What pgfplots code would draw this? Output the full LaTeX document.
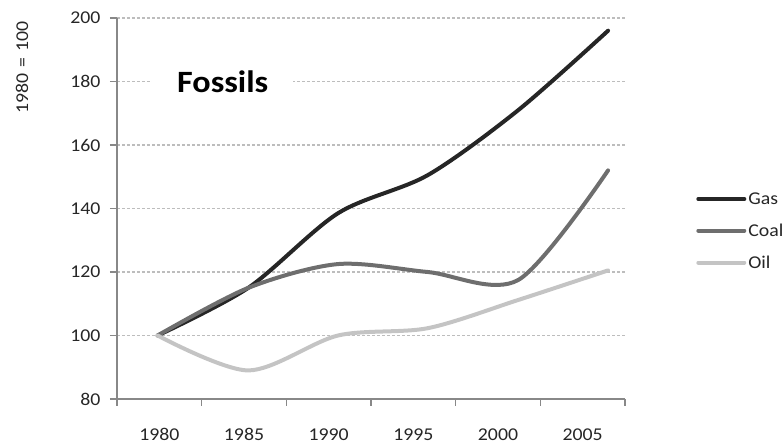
\documentclass[border=0pt]{standalone}
\usepackage{pgfplots}
\pgfplotsset{compat=1.18}
\usepackage{fontspec}
\setmainfont{Carlito}[FakeStretch=1.1]
\definecolor{gasc}{HTML}{262626}
\definecolor{coalc}{HTML}{6E6E6E}
\definecolor{oilc}{HTML}{C4C4C4}
\definecolor{axc}{HTML}{888888}
\definecolor{gridc}{HTML}{BDBDBD}
\definecolor{txtc}{HTML}{262626}
\begin{document}
\begin{tikzpicture}
\path[use as bounding box] (-117bp,-46bp) rectangle (665bp,399bp);
\begin{axis}[
  at={(0,0)}, anchor=south west,
  scale only axis, width=508bp, height=381bp,
  xmin=-0.5, xmax=5.5, ymin=80, ymax=200,
  clip=false,
  axis x line*=bottom, axis y line*=left,
  axis line style={-, draw=axc, line width=1.6bp},
  xtick={0,...,5},
  xticklabels={1980,1985,1990,1995,2000,2005},
  major x tick style={draw=none},
  minor xtick={-0.5,0.5,1.5,2.5,3.5,4.5,5.5},
  ytick={80,100,...,200},
  /pgf/number format/assume math mode=true,
  tick align=outside,
  major tick length=7bp, minor tick length=7bp,
  tick style={draw=axc, line width=1.4bp},
  ymajorgrids,
  major grid style={draw=gridc, line width=1.1bp, dash pattern=on 3bp off 2bp},
  ticklabel style={font=\fontsize{18bp}{21bp}\selectfont, text=txtc},
  xticklabel style={yshift=-19bp},
  yticklabel style={xshift=-6bp},
  legend style={at={(1.14,0.441)}, anchor=west, draw=none, fill=none,
    inner sep=0pt, font=\fontsize{18bp}{21bp}\selectfont, text=txtc,
    row sep=14bp, /tikz/every even column/.append style={column sep=0pt}},
  legend cell align=left,
  legend image code/.code={\draw[#1] (0bp,0bp) -- (46bp,0bp);},
]
\addplot[gasc, line width=4bp, line cap=round, smooth, tension=0.5]
  coordinates {(-0.02,100) (1.05,115) (2.11,138.5) (3.17,150.5) (4.24,171) (5.30,196)};
\addlegendentry{Gas}
\addplot[coalc, line width=4bp, line cap=round, smooth, tension=0.5]
  coordinates {(-0.02,100) (1.05,115) (2.11,122.5) (3.17,120) (4.24,117.5) (5.30,152)};
\addlegendentry{Coal}
\addplot[oilc, line width=4bp, line cap=round, smooth, tension=0.5]
  coordinates {(-0.02,100) (1.05,89) (2.11,100) (3.17,102.3) (4.24,111.2) (5.30,120.5)};
\addlegendentry{Oil}
\node[fill=white, inner xsep=25bp, inner ysep=3bp, anchor=base west,
  font=\fontsize{31bp}{36bp}\selectfont\bfseries, text=black]
  at (axis cs:-0.087,176.6) {Fossils};
\node[rotate=90, font=\fontsize{18bp}{21bp}\selectfont, text=txtc]
  at (axis description cs:-0.187,0.871) {1980\,\,=\,\,100};
\end{axis}
\end{tikzpicture}
\end{document}
